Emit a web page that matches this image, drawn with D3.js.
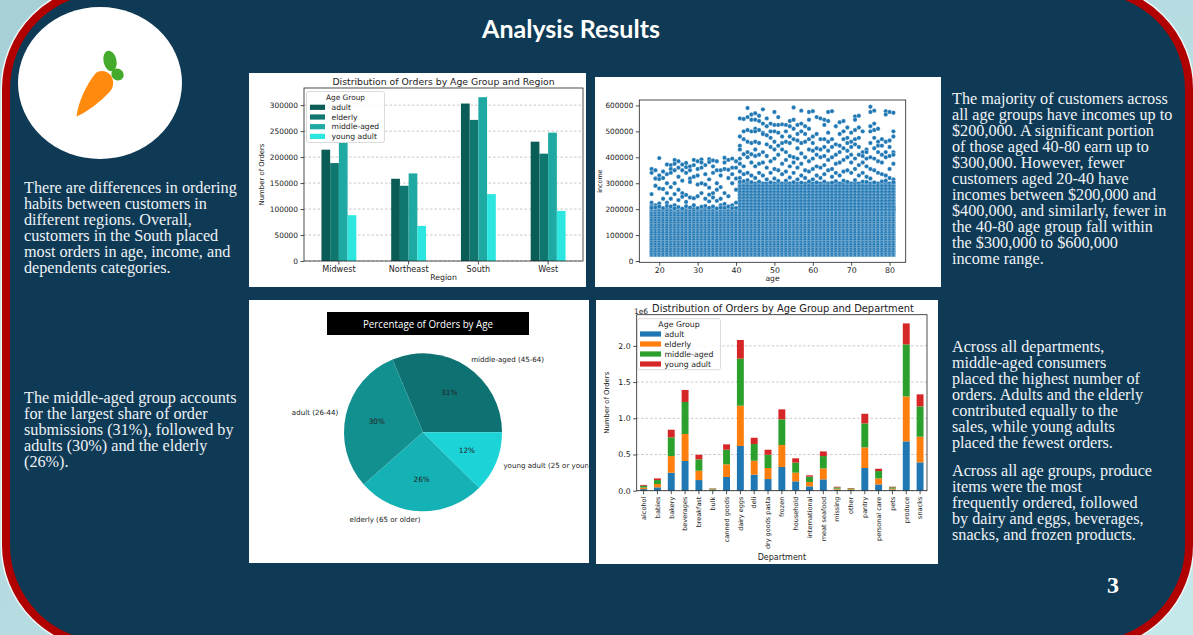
<!DOCTYPE html>
<html><head><meta charset="utf-8">
<script src="https://cdn.jsdelivr.net/npm/d3@7"></script>
<style>html,body{margin:0;padding:0;overflow:hidden;background:#bfe3e7}svg{display:block}</style>
</head><body>
<svg id="c" width="1193" height="635"></svg>
<script>
// ---------------- DATA ----------------
const regions = ["Midwest", "Northeast", "South", "West"];
const ageGroups = ["adult", "elderly", "middle-aged", "young adult"];
const regionAdult  = [214300, 158300, 303100, 229700];
const regionElderly = [188500, 144800, 271600, 206600];
const regionMiddle = [227500, 168600, 315300, 247100];
const regionYoung  = [88200, 67600, 128700, 96500];
const regionYTicks = [0, 50000, 100000, 150000, 200000, 250000, 300000];

const departments = ["alcohol","babies","bakery","beverages","breakfast","bulk","canned goods","dairy eggs","deli","dry goods pasta","frozen","household","international","meat seafood","missing","other","pantry","personal care","pets","produce","snacks"];
const deptAdult   = [22000, 46000, 248000, 410000, 147000, 8000, 189000, 617000, 221000, 161000, 327000, 129000, 60000, 156000, 15000, 10000, 313000, 87000, 15000, 681000, 391000];
const deptElderly = [21000, 46000, 230000, 373000, 129000, 8000, 175000, 557000, 193000, 152000, 304000, 120000, 60000, 152000, 13000, 9000, 285000, 83000, 14000, 621000, 354000];
const deptMiddle  = [25000, 55000, 258000, 442000, 156000, 11000, 202000, 649000, 230000, 184000, 354000, 138000, 74000, 170000, 18000, 12000, 331000, 101000, 18000, 718000, 419000];
const deptYoung   = [12000, 23000, 106000, 166000, 64000, 5000, 74000, 258000, 87000, 69000, 138000, 60000, 18000, 64000, 9000, 6000, 133000, 32000, 8000, 290000, 166000];
const deptYTicks = [0, 500000, 1000000, 1500000, 2000000];

const pieLabels = ["middle-aged (45-64)", "adult (26-44)", "elderly (65 or older)", "young adult (25 or younger)"];
const pieShares = [31.3, 30.2, 26.1, 12.4];

const ageTicks = [20, 30, 40, 50, 60, 70, 80];
const incomeTicks = [0, 100000, 200000, 300000, 400000, 500000, 600000];
// saturated (overplotted) regions of the scatter: age span and income span
const bandFromAge = [18, 41];
const bandToAge = [81, 81];
const bandLowIncome = [25000, 200000];
const bandHighIncome = [200000, 298000];
const bandKind = ["dense", "medium"];
// individually visible points above the saturated regions: [age, incomes in $1000]
const sparseIncomeByAge = [
 [18,[355,340,258,225,212,205]],[19,[350,318,290,215,207]],[20,[397,330,316,280,222,210]],
 [21,[345,320,278,240,204]],[22,[372,335,300,262,225,212]],[23,[370,355,340,285,240,210]],
 [24,[390,375,350,300,258,215,203]],[25,[385,360,325,275,235,208]],[26,[372,350,310,262,248,202]],
 [27,[378,362,340,255,228,211]],[28,[365,350,318,305,245,206]],[29,[390,370,325,242,215]],
 [30,[385,355,330,295,250,204]],[31,[392,380,360,300,262,209]],[32,[370,335,295,240,212]],
 [33,[393,382,315,283,256,230,205]],[34,[388,365,340,262,245,210]],[35,[385,350,300,275,232,203]],
 [36,[350,330,285,240,215,206]],[37,[398,380,355,262,220,205]],[38,[390,352,320,250,210]],
 [39,[395,360,335,300,215,204]],[40,[385,360,318,275,225,205]],
 [41,[550,480,445,430,395,375,345,320,305]],[42,[548,500,470,412,365,335,308]],
 [43,[590,555,505,460,420,400,340,312]],[44,[565,545,500,455,412,380,330,304]],
 [45,[570,545,510,500,460,430,405,365,320]],[46,[560,540,505,455,410,375,340,306]],
 [47,[585,530,495,490,420,380,330]],[48,[550,520,485,450,405,360,315]],
 [49,[530,500,475,440,385,340,303]],[50,[575,525,500,460,430,395,355,318]],
 [51,[555,525,495,445,410,350,309]],[52,[527,480,455,430,375,335]],
 [53,[525,500,460,420,390,345,310]],[54,[540,520,480,455,405,365,322]],
 [55,[592,545,510,470,400,380,340,304]],[56,[525,490,465,435,395,360,315]],
 [57,[580,530,500,455,415,375,330,302]],[58,[520,490,460,400,350,320]],
 [59,[575,545,510,470,430,385,345,307]],[60,[578,480,455,425,395,355,315]],
 [61,[555,490,435,410,365,330,303]],[62,[550,470,430,400,360,320]],
 [63,[545,525,470,440,405,370,335,306]],[64,[575,540,495,460,425,390,350]],
 [65,[578,470,440,400,355,325,302]],[66,[520,450,410,375,340,308]],
 [67,[535,490,445,420,380,330]],[68,[540,500,470,435,390,345,310]],
 [69,[515,475,455,425,400,350,305]],[70,[495,460,440,410,380,340]],
 [71,[558,545,505,470,450,395,355,312]],[72,[560,515,475,440,410,370,330]],
 [73,[500,420,405,380,340,306]],[74,[430,420,395,365,325,305]],
 [75,[595,575,520,500,455,400,355,318]],[76,[580,530,505,475,435,395,350,303]],
 [77,[510,460,445,420,385,340]],[78,[470,445,410,380,335,307]],
 [79,[578,565,460,420,400,330,310]],[80,[575,465,440,405,355,320]],
 [81,[572,500,480,420,410,375,315,304]]
];

// ---------------- DRAW ----------------
const svg = d3.select("#c");
const defs = svg.append("defs");
const FONT = "'DejaVu Sans', sans-serif";
const SERIF = "'Liberation Serif', 'DejaVu Serif', serif";

const bg = defs.append("linearGradient").attr("id","bgGrad").attr("x1",0).attr("y1",0).attr("x2",1).attr("y2",1);
bg.append("stop").attr("offset",0).attr("stop-color","#a6d0d6");
bg.append("stop").attr("offset",1).attr("stop-color","#c5e8eb");
svg.append("rect").attr("width",1193).attr("height",635).attr("fill","url(#bgGrad)");
svg.append("rect").attr("x",6).attr("y",-11).attr("width",1183).attr("height",656).attr("rx",100)
  .attr("fill","none").attr("stroke","#eef7f8").attr("stroke-width",11);
svg.append("rect").attr("x",6).attr("y",-11).attr("width",1183).attr("height",656).attr("rx",100)
  .attr("fill","#0f3a55").attr("stroke","#b00000").attr("stroke-width",8);

// title
svg.append("text").attr("x",571).attr("y",38).attr("text-anchor","middle")
  .attr("font-family","Lato, 'Open Sans', sans-serif").attr("font-weight",700).attr("font-size",25)
  .attr("fill","#ffffff").text("Analysis Results");

// logo
svg.append("ellipse").attr("cx",100).attr("cy",83).attr("rx",82).attr("ry",76).attr("fill","#ffffff");
svg.append("ellipse").attr("cx",110).attr("cy",61).attr("rx",6.5).attr("ry",10.5).attr("transform","rotate(-12,110,61)").attr("fill","#43aa2b");
svg.append("ellipse").attr("cx",117.5).attr("cy",74.5).attr("rx",6.3).attr("ry",5.8).attr("transform","rotate(30,117.5,74.5)").attr("fill","#43aa2b");
svg.append("path").attr("d","M76.5,116.5 C78.5,101 86.5,85 95,74 C99,69.5 106.5,70.5 110.5,75 C114.5,80 114,87.5 109.5,92 C100.5,101.5 88,111.5 76.5,116.5 Z").attr("fill","#ff8a0d");

// panels
const panels = [[249,73,337,214],[595,77,346,210],[249,300,340,263],[596,300,342,264]];
panels.forEach(p => svg.append("rect").attr("x",p[0]).attr("y",p[1]).attr("width",p[2]).attr("height",p[3]).attr("fill","#ffffff"));

function styleAxis(g, fs){
  g.select(".domain").remove();
  g.selectAll(".tick line").attr("stroke","#222").attr("stroke-width",0.8);
  g.selectAll(".tick text").attr("fill","#222").attr("font-size",fs).attr("font-family",FONT);
}
function gridLines(g, ticks, y, x0, x1){
  g.selectAll(null).data(ticks).enter().append("line")
    .attr("x1",x0).attr("x2",x1).attr("y1",d=>y(d)).attr("y2",d=>y(d))
    .attr("stroke","#b0b0b0").attr("stroke-width",0.7).attr("stroke-dasharray","2.5,2");
}
function label(g, x, y, txt, fs, anchor, rot){
  const t = g.append("text").attr("x",x).attr("y",y).attr("text-anchor",anchor||"middle")
    .attr("font-family",FONT).attr("font-size",fs).attr("fill","#222").text(txt);
  if (rot) t.attr("transform",`rotate(${rot},${x},${y})`);
  return t;
}

// ---------- Chart 1: grouped bars by region ----------
(function(){
  const L=304,R=583,T=88,B=261;
  const g = svg.append("g");
  const colors = ["#0a5c57","#0f7770","#1ea9a3","#2ee6e0"];
  const series = [regionAdult, regionElderly, regionMiddle, regionYoung];
  const x = d3.scaleBand().domain(regions).range([L,R]).paddingInner(0.5).paddingOuter(0.25);
  const xi = d3.scaleBand().domain(ageGroups).range([0,x.bandwidth()]);
  const y = d3.scaleLinear().domain([0,333000]).range([B,T]);
  gridLines(g, regionYTicks, y, L, R);
  series.forEach((vals,k)=>{
    g.selectAll(null).data(vals).enter().append("rect")
      .attr("x",(d,i)=>x(regions[i])+xi(ageGroups[k])).attr("width",xi.bandwidth())
      .attr("y",d=>y(d)).attr("height",d=>B-y(d)).attr("fill",colors[k]);
  });
  g.append("rect").attr("x",L).attr("y",T).attr("width",R-L).attr("height",B-T).attr("fill","none").attr("stroke","#222").attr("stroke-width",0.8);
  const ya = g.append("g").attr("transform",`translate(${L},0)`).call(d3.axisLeft(y).tickValues(regionYTicks).tickSize(3.5).tickPadding(2.5).tickFormat(d3.format("d")));
  styleAxis(ya, 7.4);
  const xa = g.append("g").attr("transform",`translate(0,${B})`).call(d3.axisBottom(x).tickSize(3.5).tickPadding(2));
  styleAxis(xa, 8.1);
  label(g,(L+R)/2,85,"Distribution of Orders by Age Group and Region",9.3);
  label(g,(L+R)/2,280,"Region",7.8);
  label(g,262,(T+B)/2,"Number of Orders",6.9,"middle",-90).attr("dy","0.35em");
  // legend
  const lg = g.append("g");
  lg.append("rect").attr("x",306.5).attr("y",91.5).attr("width",78).attr("height",51).attr("rx",2)
    .attr("fill","#fff").attr("fill-opacity",0.85).attr("stroke","#cccccc").attr("stroke-width",0.7);
  label(lg,345.5,100,"Age Group",7.4);
  ageGroups.forEach((a,k)=>{
    const cy = 107.3 + k*9.7;
    lg.append("rect").attr("x",310).attr("y",cy-2.6).attr("width",15).attr("height",5.2).attr("fill",colors[k]);
    label(lg,331.5,cy+2.6,a,7.6,"start");
  });
})();

// ---------- Chart 2: scatter age vs income ----------
(function(){
  const L=639.3,R=905.7,T=100,B=262.3;
  const g = svg.append("g");
  const x = d3.scaleLinear().domain([14.8,84.2]).range([L,R]);
  const y = d3.scaleLinear().domain([-5000,621000]).range([B,T]);
  const w = x(1)-x(0);
  const blue = "#1f77b4", r = 2.2;
  function makePattern(id, h, base){
    const p = defs.append("pattern").attr("id",id).attr("patternUnits","userSpaceOnUse")
      .attr("x",x(18)-w/2).attr("y",0).attr("width",w).attr("height",h);
    p.append("rect").attr("width",w).attr("height",h).attr("fill",base);
    [-w/2, w/2, 1.5*w].forEach(cx=>[0,h].forEach(cy=>{
      p.append("circle").attr("cx",cx).attr("cy",cy).attr("r",r).attr("fill",blue).attr("stroke","#fff").attr("stroke-width",0.3);
    }));
  }
  makePattern("densePat", 2.4, "#3f8bc2");
  makePattern("mediumPat", 3.0, "#4f95c8");
  const clip = defs.append("clipPath").attr("id","scClip");
  clip.append("rect").attr("x",L).attr("y",T).attr("width",R-L).attr("height",B-T);
  const pg = g.append("g").attr("clip-path","url(#scClip)");
  bandKind.forEach((k,i)=>{
    pg.append("rect").attr("x",x(bandFromAge[i])-r).attr("width",x(bandToAge[i])-x(bandFromAge[i])+2*r)
      .attr("y",y(bandHighIncome[i])-r).attr("height",y(bandLowIncome[i])-y(bandHighIncome[i])+2*r)
      .attr("fill", k==="dense" ? "url(#densePat)" : "url(#mediumPat)");
  });
  const pts = sparseIncomeByAge.flatMap(([a,list]) => list.map(v => ({age:a, income:v*1000})));
  pg.selectAll(null).data(pts).enter().append("circle")
    .attr("cx",d=>x(d.age)).attr("cy",d=>y(d.income)).attr("r",r)
    .attr("fill",blue).attr("stroke","#fff").attr("stroke-width",0.35);
  g.append("rect").attr("x",L).attr("y",T).attr("width",R-L).attr("height",B-T).attr("fill","none").attr("stroke","#222").attr("stroke-width",0.8);
  const ya = g.append("g").attr("transform",`translate(${L},0)`).call(d3.axisLeft(y).tickValues(incomeTicks).tickSize(3.5).tickPadding(2.5).tickFormat(d3.format("d")));
  styleAxis(ya, 7.3);
  const xa = g.append("g").attr("transform",`translate(0,${B})`).call(d3.axisBottom(x).tickValues(ageTicks).tickSize(3.5).tickPadding(2));
  styleAxis(xa, 7.8);
  label(g,(L+R)/2,280.5,"age",7.6);
  label(g,600,(T+B)/2,"income",6.4,"middle",-90).attr("dy","0.35em");
})();

// ---------- Chart 3: pie ----------
(function(){
  const g = svg.append("g");
  const clip = defs.append("clipPath").attr("id","pieClip");
  clip.append("rect").attr("x",249).attr("y",300).attr("width",339.5).attr("height",263);
  const pg = g.append("g").attr("clip-path","url(#pieClip)");
  const cx=423, cy=432.3, R=79;
  const colors = ["#0e7272","#12908f","#15b2b5","#1cd3d8"];
  const pie = d3.pie().sort(null).value(d=>d).startAngle(Math.PI/2).endAngle(Math.PI/2-2*Math.PI);
  const arcs = pie(pieShares);
  const arc = d3.arc().innerRadius(0).outerRadius(R);
  const lblArc = d3.arc().innerRadius(R*1.1).outerRadius(R*1.1);
  const pctArc = d3.arc().innerRadius(R*0.6).outerRadius(R*0.6);
  const c = pg.append("g").attr("transform",`translate(${cx},${cy})`);
  c.selectAll(null).data(arcs).enter().append("path").attr("d",arc).attr("fill",(d,i)=>colors[i]);
  arcs.forEach((d,i)=>{
    const [lx,ly] = lblArc.centroid(d);
    label(c,lx,ly,pieLabels[i],7.1,lx>0?"start":"end").attr("dy","0.35em");
    const [px,py] = pctArc.centroid(d);
    label(c,px,py,Math.round(pieShares[i])+"%",7.3).attr("dy","0.35em");
  });
  g.append("rect").attr("x",327).attr("y",312).attr("width",202).attr("height",23).attr("fill","#000");
  g.append("text").attr("x",428).attr("y",327.5).attr("text-anchor","middle")
    .attr("font-family","'Open Sans', sans-serif").attr("font-size",10).attr("fill","#fff")
    .attr("textLength",130).attr("lengthAdjust","spacingAndGlyphs").text("Percentage of Orders by Age");
})();

// ---------- Chart 4: stacked bars by department ----------
(function(){
  const L=636.7,R=927,T=314.7,B=490.7;
  const g = svg.append("g");
  const colors = ["#1f77b4","#ff7f0e","#2ca02c","#d62728"];
  const series = [deptAdult, deptElderly, deptMiddle, deptYoung];
  const rows = departments.map((d,i)=>{ const o={dept:d}; ageGroups.forEach((a,k)=>o[a]=series[k][i]); return o; });
  const stacked = d3.stack().keys(ageGroups)(rows);
  const x = d3.scaleBand().domain(departments).range([L,R]).paddingInner(0.5).paddingOuter(0.25);
  const y = d3.scaleLinear().domain([0,2430000]).range([B,T]);
  gridLines(g, deptYTicks, y, L, R);
  stacked.forEach((s,k)=>{
    g.selectAll(null).data(s).enter().append("rect")
      .attr("x",d=>x(d.data.dept)).attr("width",x.bandwidth())
      .attr("y",d=>y(d[1])).attr("height",d=>y(d[0])-y(d[1])).attr("fill",colors[k]);
  });
  g.append("rect").attr("x",L).attr("y",T).attr("width",R-L).attr("height",B-T).attr("fill","none").attr("stroke","#222").attr("stroke-width",0.8);
  const ya = g.append("g").attr("transform",`translate(${L},0)`).call(d3.axisLeft(y).tickValues(deptYTicks).tickSize(3.5).tickPadding(2.5).tickFormat(d=>(d/1e6).toFixed(1)));
  styleAxis(ya, 7.8);
  const xa = g.append("g").attr("transform",`translate(0,${B})`).call(d3.axisBottom(x).tickSize(3.5));
  styleAxis(xa, 6.5);
  xa.selectAll(".tick text").attr("transform","rotate(-90)").attr("text-anchor","end").attr("x",-6).attr("y",0).attr("dy","0.35em");
  label(g,783,312,"Distribution of Orders by Age Group and Department",9.9);
  label(g,634,314,"1e6",7.4,"start");
  label(g,(L+R)/2,559.5,"Department",8);
  label(g,607,(T+B)/2,"Number of Orders",6.9,"middle",-90).attr("dy","0.35em");
  const lg = g.append("g");
  lg.append("rect").attr("x",637.5).attr("y",318.7).attr("width",83).attr("height",51).attr("rx",2)
    .attr("fill","#fff").attr("fill-opacity",0.85).attr("stroke","#cccccc").attr("stroke-width",0.7);
  label(lg,679,327,"Age Group",7.8);
  ageGroups.forEach((a,k)=>{
    const cy = 334 + k*10;
    lg.append("rect").attr("x",640).attr("y",cy-2.6).attr("width",21).attr("height",5.2).attr("fill",colors[k]);
    label(lg,664.5,cy+2.8,a,7.8,"start");
  });
})();

// ---------- Text blocks ----------
function block(x, y0, lines){
  const t = svg.append("text").attr("font-family",SERIF).attr("font-size",16.2).attr("fill","#eef2f5");
  lines.forEach((s,i)=>t.append("tspan").attr("x",x).attr("y",y0+i*15.95).text(s));
}
block(24, 193.3, ["There are differences in ordering","habits between customers in","different regions. Overall,","customers in the South placed","most orders in age, income, and","dependents categories."]);
block(24, 403.3, ["The middle-aged group accounts","for the largest share of order","submissions (31%), followed by","adults (30%) and the elderly","(26%)."]);
block(952, 104, ["The majority of customers across","all age groups have incomes up to","$200,000. A significant portion","of those aged 40-80 earn up to","$300,000. However, fewer","customers aged 20-40 have","incomes between $200,000 and","$400,000, and similarly, fewer in","the 40-80 age group fall within","the $300,000 to $600,000","income range."]);
block(952, 352, ["Across all departments,","middle-aged consumers","placed the highest number of","orders. Adults and the elderly","contributed equally to the","sales, while young adults","placed the fewest orders."]);
block(952, 476, ["Across all age groups, produce","items were the most","frequently ordered, followed","by dairy and eggs, beverages,","snacks, and frozen products."]);
svg.append("text").attr("x",1113).attr("y",593).attr("text-anchor","middle").attr("font-family",SERIF)
  .attr("font-weight",700).attr("font-size",24).attr("fill","#ffffff").text("3");
</script>
</body></html>
